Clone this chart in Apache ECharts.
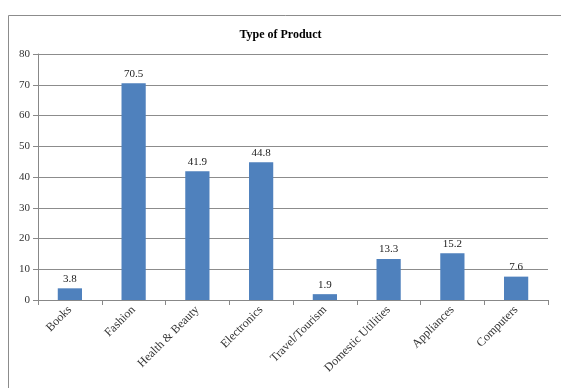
<!DOCTYPE html>
<html><head><meta charset="utf-8">
<script src="https://cdn.jsdelivr.net/npm/echarts@6/dist/echarts.min.js"></script>
<style>html,body{margin:0;padding:0;background:#fff}#c{width:561px;height:388px}</style>
</head><body><div id="c"></div>
<script>
const categories = ["Books","Fashion","Health & Beauty","Electronics","Travel/Tourism","Domestic Utilities","Appliances","Computers"];
const values = [3.8,70.5,41.9,44.8,1.9,13.3,15.2,7.6];
const yTicks = [0,10,20,30,40,50,60,70,80];
const chart = echarts.init(document.getElementById('c'));
const serif = '"Liberation Serif","DejaVu Serif",serif';
chart.setOption({
  animation:false,
  title:{text:'Type of Product',left:'center',top:24,textStyle:{fontFamily:serif,fontSize:12,fontWeight:'bold',color:'#000'}},
  graphic:[{type:'rect',shape:{x:8.5,y:15.5,width:600,height:400},style:{fill:'none',stroke:'#8c8c8c',lineWidth:1}}],
  grid:{left:38,right:13,top:54,bottom:88},
  xAxis:{type:'category',data:categories,
    axisLine:{lineStyle:{color:'#888'}},
    axisTick:{show:true,alignWithLabel:false,length:5,lineStyle:{color:'#888'}},
    axisLabel:{rotate:45,interval:0,fontFamily:serif,fontSize:12,color:'#333',margin:8}},
  yAxis:{type:'value',min:yTicks[0],max:yTicks[yTicks.length-1],interval:10,
    axisLine:{show:true,lineStyle:{color:'#888'}},
    axisTick:{show:true,length:5,lineStyle:{color:'#888'}},
    splitLine:{lineStyle:{color:'#8c8c8c'}},
    axisLabel:{fontFamily:serif,fontSize:11,color:'#333',margin:8}},
  series:[{type:'bar',data:values,barWidth:'38%',itemStyle:{color:'#4f81bd'},
    label:{show:true,position:'top',fontFamily:serif,fontSize:11,color:'#222',distance:4}}]
});
</script></body></html>
